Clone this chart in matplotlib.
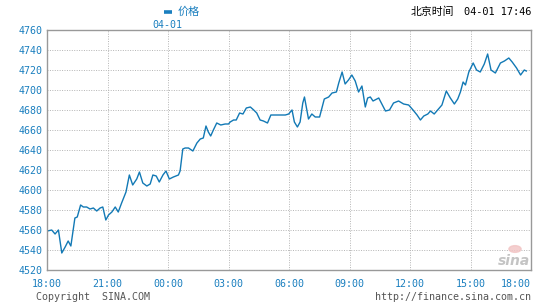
import numpy as np
import matplotlib
matplotlib.use("Agg")
import matplotlib.pyplot as plt
from matplotlib.lines import Line2D

# minutes after 18:00 (03-31) and price
minutes = [1, 14, 24, 34, 44, 54, 63, 71, 78, 83, 90, 100, 108, 118, 128, 138,
           148, 158, 166, 175, 183, 193, 203, 212, 222, 235, 245, 255, 267, 275,
           285, 297, 307, 315, 325, 334, 345, 354, 364, 376, 391, 396, 404, 411,
           421, 434, 446, 456, 465, 473, 480, 487, 495, 505, 517, 530, 540, 545,
           555, 563, 573, 583, 593, 605, 615, 624, 634, 644, 656, 666, 679, 694,
           709, 719, 729, 736, 745, 753, 761, 766, 773, 778, 788, 798, 811, 818,
           825, 838, 848, 861, 868, 878, 887, 897, 907, 917, 927, 937, 947, 954,
           962, 970, 987, 1007, 1019, 1031, 1046, 1061, 1076, 1089, 1101, 1111,
           1121, 1133, 1141, 1152, 1165, 1175, 1188, 1200, 1212, 1222, 1230,
           1238, 1245, 1255, 1268, 1278, 1289, 1301, 1311, 1321, 1334, 1349,
           1361, 1374, 1384, 1397, 1409, 1420, 1426]
prices = [4559, 4560, 4556, 4560, 4537, 4543, 4549, 4544, 4560, 4572, 4573,
          4585, 4583, 4583, 4581, 4582, 4579, 4582, 4583, 4570, 4575, 4578,
          4583, 4578, 4587, 4598, 4615, 4605, 4611, 4618, 4607, 4604, 4606,
          4615, 4614, 4608, 4615, 4619, 4611, 4613, 4615, 4619, 4641, 4642,
          4642, 4639, 4647, 4651, 4652, 4664, 4658, 4654, 4660, 4667, 4665,
          4666, 4666, 4668, 4670, 4670, 4677, 4676, 4682, 4683, 4680, 4677,
          4670, 4669, 4667, 4675, 4675, 4675, 4675, 4676, 4680, 4668, 4663,
          4668, 4687, 4693, 4680, 4671, 4676, 4673, 4673, 4682, 4691, 4693,
          4697, 4698, 4707, 4718, 4706, 4710, 4715, 4709, 4698, 4704, 4683,
          4692, 4693, 4689, 4692, 4679, 4680, 4687, 4689, 4686, 4685, 4680,
          4675, 4670, 4674, 4676, 4679, 4676, 4681, 4685, 4699, 4692, 4686,
          4691, 4698, 4708, 4705, 4718, 4727, 4720, 4718, 4726, 4736, 4720,
          4717, 4727, 4729, 4732, 4728, 4722, 4715, 4720, 4719]

tick_minutes = [0, 180, 360, 540, 720, 900, 1080, 1260, 1440]
tick_labels = ["18:00", "21:00", "00:00", "03:00", "06:00", "09:00",
               "12:00", "15:00", "18:00"]
y_ticks = [4520, 4540, 4560, 4580, 4600, 4620, 4640, 4660, 4680, 4700,
           4720, 4740, 4760]

blue = "#1a7fbf"
line_color = "#1279b5"
grid_color = "#b4b4b4"
mono = "DejaVu Sans Mono"
cjk = ["Noto Sans CJK SC", "DejaVu Sans"]

fig = plt.figure(figsize=(5.56, 3.06), dpi=100)
ax = fig.add_axes([47 / 556, 36 / 306, 484 / 556, 240 / 306])

ax.plot(minutes, prices, color=line_color, linewidth=1.0)

ax.set_xlim(0, 1440)
ax.set_ylim(4520, 4760)
ax.set_xticks(tick_minutes)
ax.set_yticks(y_ticks)
ax.set_xticklabels([])
ax.set_yticklabels([str(v) for v in y_ticks], fontfamily=mono, fontsize=7.2,
                   color=blue)
ax.tick_params(length=0, pad=3)

for m in tick_minutes[1:-1]:
    ax.axvline(m, color=grid_color, linestyle=(0, (1, 1.5)), linewidth=0.7,
               zorder=0)
for v in y_ticks[1:-1]:
    ax.axhline(v, color=grid_color, linestyle=(0, (1, 1.5)), linewidth=0.7,
               zorder=0)

for s in ax.spines.values():
    s.set_color("#999999")
    s.set_linewidth(1.0)

# x labels (last one pulled inside the figure)
for i, (m, lab) in enumerate(zip(tick_minutes, tick_labels)):
    ha = "right" if i == len(tick_minutes) - 1 else "center"
    ax.text(m, -0.06, lab, transform=ax.get_xaxis_transform(), ha=ha,
            va="center", fontfamily=mono, fontsize=7.2, color=blue)

# header
fig.add_artist(Line2D([164 / 556, 172 / 556], [1 - 12 / 306, 1 - 12 / 306],
                      color=blue, linewidth=2.6, solid_capstyle="butt"))
fig.text(178 / 556, 1 - 12 / 306, "价格", color=blue, fontsize=8,
         family=cjk, va="center", ha="left")
fig.text(167 / 556, 1 - 25 / 306, "04-01", color=blue, fontsize=7.2,
         family=mono, va="center", ha="center")
fig.text(411 / 556, 1 - 12 / 306, "北京时间", color="black", fontsize=7.8,
         family=cjk, va="center", ha="left")
fig.text(531 / 556, 1 - 12 / 306, "04-01 17:46", color="black", fontsize=7.4,
         family=mono, va="center", ha="right")

# footer
fig.text(36 / 556, 1 - 297 / 306, "Copyright  SINA.COM", color="#555555",
         fontsize=7.2, family=mono, va="center", ha="left")
fig.text(531 / 556, 1 - 297 / 306, "http://finance.sina.com.cn",
         color="#555555", fontsize=7.2, family=mono, va="center", ha="right")

# watermark
fig.add_artist(plt.Circle((515 / 556, 1 - 249 / 306), 0.011,
                          transform=fig.transFigure, color="#f2c4c4",
                          alpha=0.8, zorder=5))
fig.text(514 / 556, 1 - 261 / 306, "sina", color="#c4c4c4", fontsize=10,
         fontweight="bold", style="italic", va="center", ha="center",
         zorder=6)

fig.savefig("out.png", dpi=100, facecolor="white")
